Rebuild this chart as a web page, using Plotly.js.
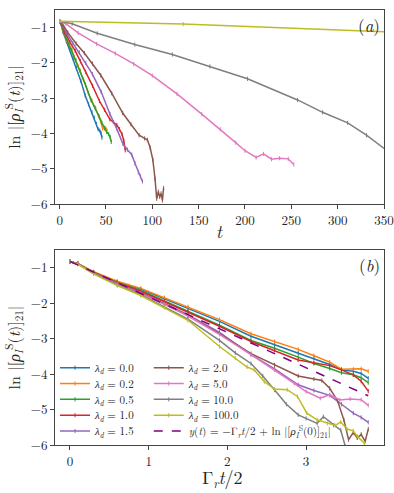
<!DOCTYPE html>
<html><head><meta charset="utf-8">
<script src="https://cdn.plot.ly/plotly-3.0.1.min.js"></script>
<style>html,body{margin:0;padding:0;background:#fff}#chart{width:394px;height:493px}</style>
</head><body><div id="chart"></div><script>
// ---- data ----
// x in units of Gamma_r t / 2 (panel b); panel a uses t = x / gammaHalf
const lambdaLabels = ['0.0','0.2','0.5','1.0','1.5','2.0','5.0','10.0','100.0'];
const colors = ['#1f77b4','#ff7f0e','#2ca02c','#d62728','#9467bd','#8c564b','#e377c2','#7f7f7f','#bcbd22'];
const gammaHalf = [0.0831, 0.0743, 0.068, 0.0535, 0.0424, 0.0338, 0.0150, 0.0074, 0.00075];

const xStd = [0,0.1,0.3,0.6,0.9,1.2,1.5,1.9,2.3,2.6,2.9,3.1,3.3,3.45,3.6,3.7,3.79];
const y00 = [-0.82,-0.88,-1.12,-1.39,-1.60,-1.87,-2.14,-2.51,-2.93,-3.17,-3.40,-3.55,-3.73,-3.88,-3.92,-3.98,-4.12];
const y02 = [-0.82,-0.88,-1.11,-1.38,-1.58,-1.84,-2.10,-2.46,-2.86,-3.08,-3.30,-3.48,-3.66,-3.86,-3.86,-3.85,-3.92];
const y05 = [-0.82,-0.88,-1.13,-1.41,-1.64,-1.93,-2.22,-2.62,-3.05,-3.27,-3.52,-3.70,-3.84,-3.96,-4.02,-4.10,-4.24];
const y10 = [-0.82,-0.88,-1.13,-1.42,-1.66,-1.95,-2.25,-2.65,-3.08,-3.33,-3.60,-3.68,-3.76,-3.88,-4.02,-4.20,-4.48];
const y15 = [-0.82,-0.89,-1.14,-1.44,-1.70,-2.00,-2.32,-2.82,-3.45,-3.85,-4.30,-4.46,-4.60,-4.85,-5.10,-5.22,-5.36];
const x20 = [0,0.1,0.3,0.6,0.9,1.2,1.5,1.9,2.3,2.6,2.9,3.1,3.2,3.3,3.4,3.48,3.54,3.6,3.65,3.7,3.75,3.79];
const y20 = [-0.82,-0.89,-1.14,-1.45,-1.72,-2.02,-2.35,-2.86,-3.42,-3.74,-4.05,-4.14,-4.18,-4.40,-4.75,-5.29,-5.85,-5.65,-5.80,-5.70,-5.90,-5.55];
const x50 = [0,0.1,0.3,0.6,0.9,1.2,1.5,1.9,2.3,2.6,2.85,3.0,3.18,3.3,3.43,3.56,3.7,3.79];
const y50 = [-0.82,-0.89,-1.15,-1.46,-1.73,-2.03,-2.36,-2.88,-3.45,-3.88,-4.26,-4.49,-4.68,-4.58,-4.73,-4.70,-4.72,-4.88];
const x100 = [0,0.1,0.3,0.6,0.9,1.2,1.5,1.9,2.1,2.3,2.45,2.6,2.75,2.9,3.0,3.14,3.22,3.35,3.44,3.5,3.56];
const y100 = [-0.82,-0.89,-1.16,-1.48,-1.76,-2.10,-2.45,-3.05,-3.40,-3.70,-4.05,-4.45,-4.85,-5.15,-5.25,-5.39,-5.20,-5.44,-5.58,-6.05,-6.40];
const x1000 = [0,0.1,0.3,0.6,0.9,1.2,1.5,1.9,2.1,2.25,2.34,2.47,2.6,2.76,2.89,3.01,3.14,3.27,3.37,3.44,3.52,3.6,3.65,3.74];
const y1000 = [-0.82,-0.90,-1.17,-1.50,-1.78,-2.12,-2.48,-3.22,-3.55,-3.80,-3.88,-4.21,-4.42,-4.44,-4.63,-5.10,-5.29,-5.39,-5.45,-5.35,-5.55,-5.60,-5.75,-5.95];
const xFit = [0, 3.79];
const yFit = [-0.82, -4.61];

const seriesX = [xStd,xStd,xStd,xStd,xStd,x20,x50,x100,x1000];
const seriesY = [y00,y02,y05,y10,y15,y20,y50,y100,y1000];

// ---- traces ----
const traces = [];
const FONT = 'Latin Modern Roman';
const legendIds = ['legend','legend2','legend3','legend4','legend5','legend6','legend7','legend8','legend9','legend10'];
function mk(c){ return {symbol:'line-ns-open', size:3, color:c, line:{width:1, color:c}}; }
for (let i = 0; i < seriesX.length; i++) {
  const tArr = seriesX[i].map(v => v / gammaHalf[i]);
  traces.push({x:tArr, y:seriesY[i], xaxis:'x', yaxis:'y', mode:'lines+markers',
    line:{color:colors[i], width:1.5}, marker:mk(colors[i]), showlegend:false, hoverinfo:'skip'});
}
for (let i = 0; i < seriesX.length; i++) {
  traces.push({x:seriesX[i], y:seriesY[i], xaxis:'x2', yaxis:'y2', mode:'lines+markers',
    line:{color:colors[i], width:1.5}, marker:mk(colors[i]),
    name:'<i>λ<sub>d</sub></i> = ' + lambdaLabels[i],
    legend: legendIds[i], showlegend:true});
}
traces.push({x:xFit, y:yFit, xaxis:'x2', yaxis:'y2', mode:'lines',
  line:{color:'#800080', width:1.5, dash:'dash'},
  name:'<i>y</i>(<i>t</i>) = −Γ<sub><i>r</i></sub><i>t</i>/2 + ln |[<i>ρ</i><sub><i>I</i></sub><sup>S</sup>(0)]<sub>21</sub>|',
  legend:legendIds[9], showlegend:true});

const axBase = {showgrid:false, zeroline:false, showline:true, mirror:true, linecolor:'#444', linewidth:1,
  ticks:'outside', ticklen:4, tickwidth:1, tickcolor:'#444', tickfont:{family:FONT, size:13, color:'#222'}};
const yTitle = {text:'ln |[<i>ρ</i><sub><i>I</i></sub><sup>S</sup>(<i>t</i>)]<sub>21</sub>|', font:{family:FONT, size:16, color:'#222'}, standoff:6};

const layout = {
  width:394, height:493, paper_bgcolor:'#fff', plot_bgcolor:'#fff',
  margin:{l:55, r:10, t:10, b:48},
  font:{family:FONT, color:'#222'},
  xaxis: Object.assign({}, axBase, {domain:[0,1], anchor:'y', range:[-5,350], tickvals:[0,50,100,150,200,250,300,350]}),
  yaxis: Object.assign({}, axBase, {domain:[0.554,1], anchor:'x', range:[-6,-0.5], tickvals:[-1,-2,-3,-4,-5,-6], title:yTitle}),
  xaxis2: Object.assign({}, axBase, {domain:[0,1], anchor:'y2', range:[-0.19,3.99], tickvals:[0,1,2,3]}),
  yaxis2: Object.assign({}, axBase, {domain:[0,0.448], anchor:'x2', range:[-6,-0.5], tickvals:[-1,-2,-3,-4,-5,-6], title:yTitle}),
  showlegend:true,
  annotations:[
    {text:'(<i>a</i>)', xref:'x domain', yref:'y domain', x:0.995, y:0.995, xanchor:'right', yanchor:'top', showarrow:false, font:{family:FONT, size:17, color:'#222'}},
    {text:'(<i>b</i>)', xref:'x2 domain', yref:'y2 domain', x:0.995, y:0.995, xanchor:'right', yanchor:'top', showarrow:false, font:{family:FONT, size:17, color:'#222'}},
    {text:'<i>t</i>', xref:'paper', yref:'paper', x:0.500, y:0.494, xanchor:'center', yanchor:'middle', showarrow:false, font:{family:FONT, size:18, color:'#222'}},
    {text:'Γ<sub><i>r</i></sub><i>t</i>/2', xref:'paper', yref:'paper', x:0.508, y:-0.076, xanchor:'center', yanchor:'middle', showarrow:false, font:{family:FONT, size:18, color:'#222'}}
  ]
};
// one small legend per entry, laid out in two columns
for (let k = 0; k < 10; k++) {
  const col = k < 5 ? 0 : 1, row = k % 5;
  layout[legendIds[k]] = {x: col === 0 ? 0.0 : 0.285, y: 0.1777 - 0.0364 * row, xanchor:'left', yanchor:'middle',
    bgcolor:'rgba(0,0,0,0)', borderwidth:0, font:{family:FONT, size:11, color:'#222'}, itemwidth:30};
}
Plotly.newPlot('chart', traces, layout, {displayModeBar:false, staticPlot:true});
</script></body></html>
